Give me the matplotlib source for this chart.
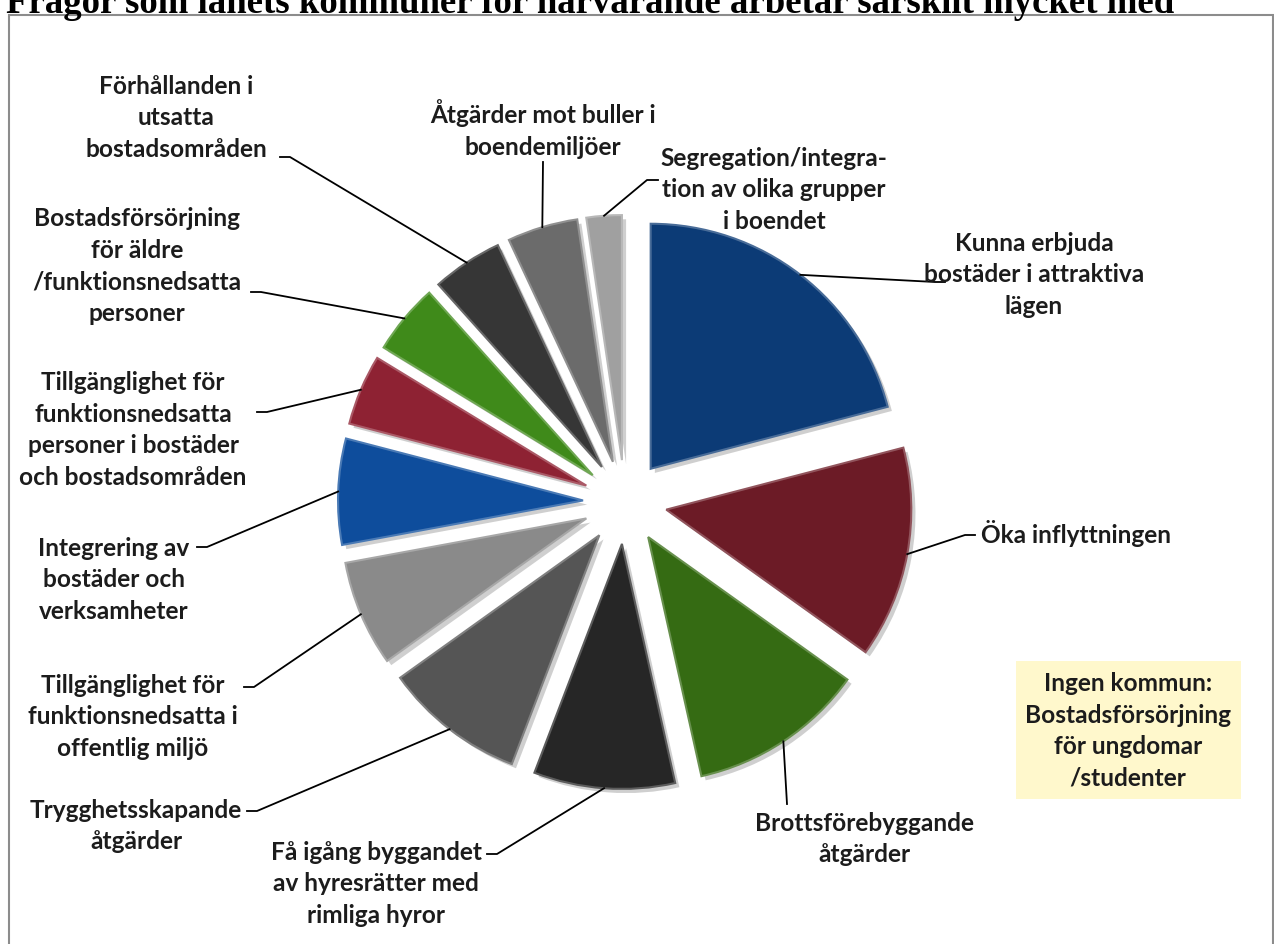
import matplotlib
matplotlib.use("Agg")
from matplotlib import pyplot as plt
from matplotlib import patheffects as pe
from matplotlib.patches import Rectangle
import matplotlib.colors as mcolors
import numpy as np

W, H = 1274, 945

title = "Frågor som länets kommuner för närvarande arbetar särskilt mycket med"

labels = [
    "Kunna erbjuda\nbostäder i attraktiva\nlägen",
    "Öka inflyttningen",
    "Brottsförebyggande\nåtgärder",
    "Få igång byggandet\nav hyresrätter med\nrimliga hyror",
    "Trygghetsskapande\nåtgärder",
    "Tillgänglighet för\nfunktionsnedsatta i\noffentlig miljö",
    "Integrering av\nbostäder och\nverksamheter",
    "Tillgänglighet för\nfunktionsnedsatta\npersoner i bostäder\noch bostadsområden",
    "Bostadsförsörjning\nför äldre\n/funktionsnedsatta\npersoner",
    "Förhållanden i\nutsatta\nbostadsområden",
    "Åtgärder mot buller i\nboendemiljöer",
    "Segregation/integra-\ntion av olika grupper\ni boendet",
]
counts = [9, 6, 5, 4, 4, 3, 3, 2, 2, 2, 2, 1]
colors = ["#0c3b76", "#6c1b26", "#356b13", "#262626", "#555555", "#8a8a8a",
          "#0e4d9c", "#8e2233", "#3f8a1a", "#363636", "#6b6b6b", "#a0a0a0"]

none_note = "Ingen kommun:\nBostadsförsörjning\nför ungdomar\n/studenter"

# label centres and leader start points, in pixels from the top-left
label_pos = [(1034, 275), (1076, 534), (864, 839), (376, 884), (136, 826),
             (133, 717), (114, 580), (133, 430), (137, 266), (176, 118),
             (543, 129), (774, 190)]
leader_start = [
    [(945, 283), (935, 283)],
    [(975, 536), (965, 536)],
    [(787, 805)],
    [(487, 855), (497, 855)],
    [(247, 812), (257, 812)],
    [(244, 688), (254, 688)],
    [(197, 548), (207, 548)],
    [(257, 413), (267, 413)],
    [(251, 293), (261, 293)],
    [(280, 158), (290, 158)],
    [(543, 163)],
    [(658, 181), (647, 181)],
]

CX, CY, R, EXP = 625, 503, 245, 42
FONT = "Lato"
TXT = "#1c1c1c"
FS = 17.6
LS = 1.45

fig = plt.figure(figsize=(W / 100, H / 100), dpi=100)
ax = fig.add_axes([0, 0, 1, 1])

wedges, _ = ax.pie(counts, colors=colors, startangle=90, counterclock=False,
                   radius=R, center=(CX, H - CY), explode=[EXP] * len(counts))
for w, c in zip(wedges, colors):
    rgb = np.array(mcolors.to_rgb(c))
    w.set_edgecolor(tuple(rgb + (1 - rgb) * 0.25))
    w.set_linewidth(1.5)
    w.set_path_effects([pe.SimplePatchShadow(offset=(3, -3), shadow_rgbFace="#777777", alpha=0.35),
                        pe.Normal()])

for w, lab, pos, start in zip(wedges, labels, label_pos, leader_start):
    tm = np.deg2rad((w.theta1 + w.theta2) / 2)
    ex = w.center[0] + w.r * np.cos(tm)
    ey = w.center[1] + w.r * np.sin(tm)
    xs = [p[0] for p in start] + [ex]
    ys = [H - p[1] for p in start] + [ey]
    ax.plot(xs, ys, color="black", lw=1.3, zorder=1)
    ax.text(pos[0], H - pos[1], lab, ha="center", va="center", multialignment="center",
            fontsize=FS, fontweight="bold", family=FONT, color=TXT, linespacing=LS)

# note for the option no municipality chose
ax.add_patch(Rectangle((1016, H - 800), 225, 138, facecolor="#fff8cc", edgecolor="none"))
ax.text(1128, H - 731, none_note, ha="center", va="center", multialignment="center",
        fontsize=FS, fontweight="bold", family=FONT, color=TXT, linespacing=LS)

# chart frame and the title sitting partly above the page
ax.add_patch(Rectangle((9, -20), 1264, H - 16 + 20, facecolor="none", edgecolor="#8c8c8c", lw=1.5))
ax.text(6, H - 13, title, ha="left", va="baseline", fontsize=26.5, fontweight="bold",
        family="Liberation Serif", color="black")

ax.set_xlim(0, W)
ax.set_ylim(0, H)
ax.axis("off")

fig.savefig("out.png", dpi=100)
